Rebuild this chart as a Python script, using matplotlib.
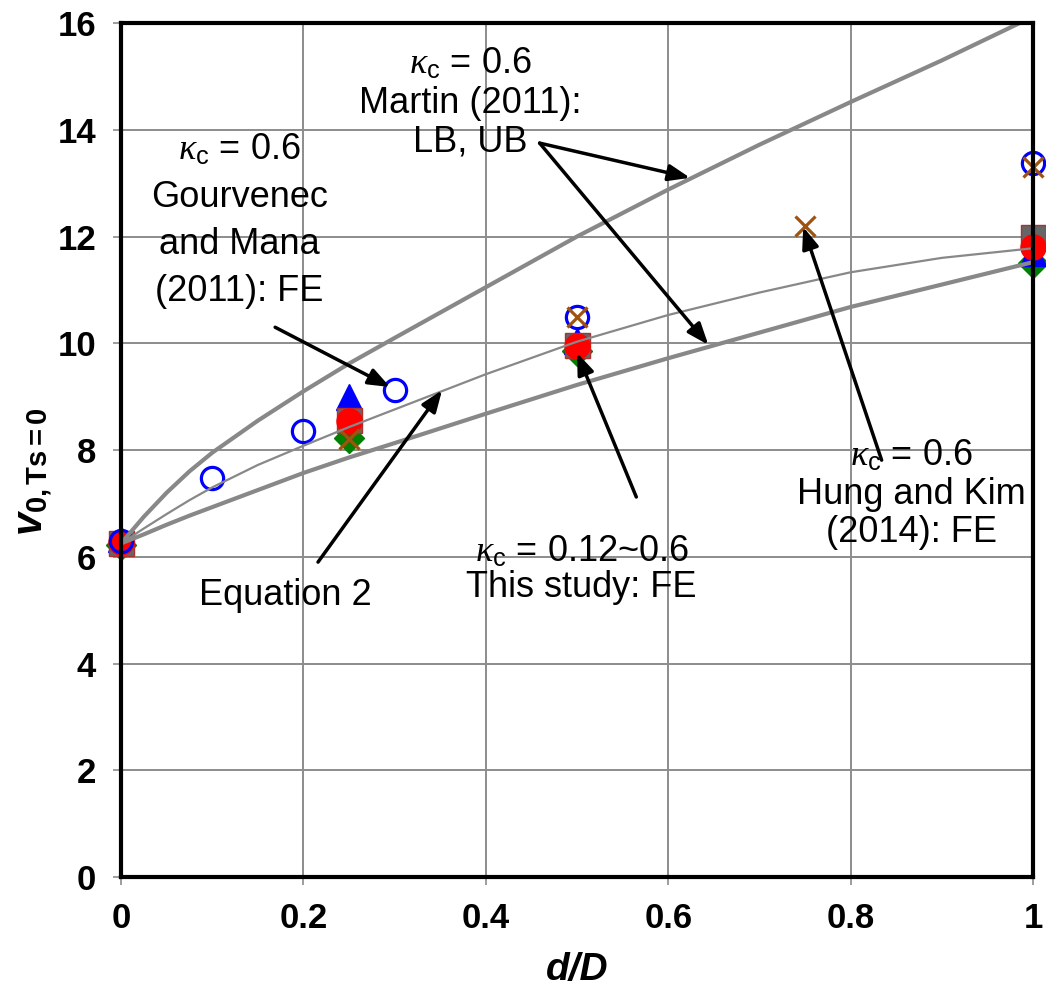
import numpy as np
import matplotlib
matplotlib.use("Agg")
import matplotlib.pyplot as plt

plt.rcParams['font.family'] = ['Liberation Sans', 'DejaVu Sans']
plt.rcParams['mathtext.fontset'] = 'custom'
plt.rcParams['mathtext.rm'] = 'Liberation Sans'
plt.rcParams['mathtext.it'] = 'Liberation Serif:italic'
plt.rcParams['mathtext.bf'] = 'Liberation Sans:bold'
plt.rcParams['mathtext.bfit'] = 'Liberation Sans:bold:italic'

# Martin (2011) bounds and Equation 2
x_curve = [0, 0.025, 0.05, 0.075, 0.1, 0.15, 0.2, 0.25, 0.3, 0.4, 0.5, 0.6, 0.7, 0.8, 0.9, 1.0]
ub = [6.25, 6.75, 7.2, 7.6, 7.95, 8.55, 9.1, 9.62, 10.1, 11.05, 12.0, 12.88, 13.72, 14.52, 15.3, 16.12]
lb = [6.25, 6.42, 6.6, 6.77, 6.93, 7.25, 7.57, 7.86, 8.13, 8.68, 9.22, 9.72, 10.2, 10.68, 11.1, 11.52]
eq2 = [6.25, 6.53, 6.8, 7.06, 7.3, 7.72, 8.08, 8.43, 8.76, 9.42, 10.03, 10.53, 10.95, 11.33, 11.6, 11.78]

# Gourvenec and Mana (2011)
gm_x = [0, 0.1, 0.2, 0.3, 0.5, 1.0]
gm_y = [6.3, 7.47, 8.35, 9.13, 10.5, 13.37]

# Hung and Kim (2014)
hk_x = [0.25, 0.5, 0.75, 1.0]
hk_y = [8.2, 10.5, 12.2, 13.3]

# This study
ts_x = [0, 0.25, 0.5, 1.0]
ts_square = [6.25, 8.56, 9.97, 11.99]
ts_circle = [6.27, 8.55, 9.95, 11.8]
ts_triangle = [6.33, 9.0, 10.05, 11.7]
ts_diamond = [6.22, 8.22, 9.85, 11.5]

fig = plt.figure(figsize=(10.46, 9.92), dpi=100)
ax = fig.add_axes([0.1157, 0.1159, 0.8719, 0.8609])

mk = dict(linestyle='none', clip_on=False)
ax.plot(ts_x, ts_diamond, 'D', color='green', ms=15, mec='green', zorder=3, **mk)
ax.plot(ts_x, ts_triangle, '^', color='blue', ms=19, mec='blue', zorder=3, **mk)
ax.plot(ts_x, ts_square, 's', color='#666666', ms=18, mec='#b03030', mew=1, zorder=3, **mk)
ax.plot(ts_x, ts_circle, 'o', color='red', ms=18, mec='red', zorder=3, **mk)
ax.plot(gm_x, gm_y, 'o', mfc='none', mec='blue', ms=16, mew=2.3, zorder=4, **mk)
ax.plot(hk_x, hk_y, 'x', color='#a0520f', ms=15, mew=2.3, zorder=5, **mk)

ax.plot(x_curve, ub, color='#888888', lw=3, zorder=6, solid_joinstyle='round')
ax.plot(x_curve, lb, color='#888888', lw=3, zorder=6, solid_joinstyle='round')
ax.plot(x_curve, eq2, color='#888888', lw=1.6, zorder=6, solid_joinstyle='round')

ax.set_xlim(0, 1)
ax.set_ylim(0, 16)
ax.set_xticks(np.arange(0, 1.01, 0.2))
ax.set_xticklabels(['0', '0.2', '0.4', '0.6', '0.8', '1'])
ax.set_yticks(np.arange(0, 17, 2))
ax.grid(True, color='#8c8c8c', lw=1.4)
ax.set_axisbelow(True)
for s in ax.spines.values():
    s.set_linewidth(3)
    s.set_color('black')
    s.set_zorder(10)
ax.tick_params(direction='out', length=6, width=1.2, color='#8c8c8c',
               labelsize=25, pad=12)
for lab in ax.get_xticklabels() + ax.get_yticklabels():
    lab.set_fontweight('bold')

ax.set_xlabel('d/D', fontsize=28, fontweight='bold', style='italic', labelpad=12)
ax.set_ylabel(r'$\mathbfit{v}_{\mathbf{0,Ts=0}}$', fontsize=30)
ax.yaxis.set_label_coords(-0.074, 0.474)

fs = 26
arrow = dict(arrowstyle='-|>,head_length=1.3,head_width=0.5', color='black', lw=2.5,
             shrinkA=0, shrinkB=0)

ax.text(0.383, 14.5, '$\\kappa_{\\mathrm{c}}$ = 0.6\nMartin (2011):\nLB, UB', fontsize=fs,
        ha='center', va='center', linespacing=1.15, zorder=8)
ax.annotate('', xy=(0.624, 13.1), xytext=(0.459, 13.75), arrowprops=arrow, zorder=8)
ax.annotate('', xy=(0.644, 9.97), xytext=(0.459, 13.75), arrowprops=arrow, zorder=8)

ax.text(0.13, 12.29, '$\\kappa_{\\mathrm{c}}$ = 0.6\nGourvenec\nand Mana\n(2011): FE', fontsize=fs,
        ha='center', va='center', linespacing=1.45, zorder=8)
ax.annotate('', xy=(0.295, 9.18), xytext=(0.169, 10.3), arrowprops=arrow, zorder=8)

ax.text(0.18, 5.28, 'Equation 2', fontsize=fs, ha='center', va='center', zorder=8)
ax.annotate('', xy=(0.352, 9.12), xytext=(0.216, 5.9), arrowprops=arrow, zorder=8)

ax.text(0.505, 5.75, '$\\kappa_{\\mathrm{c}}$ = 0.12~0.6\nThis study: FE', fontsize=fs,
        ha='center', va='center', linespacing=1.0, zorder=8)
ax.annotate('', xy=(0.5, 9.82), xytext=(0.565, 7.12), arrowprops=arrow, zorder=8)

ax.text(0.867, 7.17, '$\\kappa_{\\mathrm{c}}$ = 0.6\nHung and Kim\n(2014): FE', fontsize=fs,
        ha='center', va='center', linespacing=1.12, zorder=8)
ax.annotate('', xy=(0.748, 12.18), xytext=(0.834, 7.81), arrowprops=arrow, zorder=8)

fig.savefig('out.png', dpi=100)
